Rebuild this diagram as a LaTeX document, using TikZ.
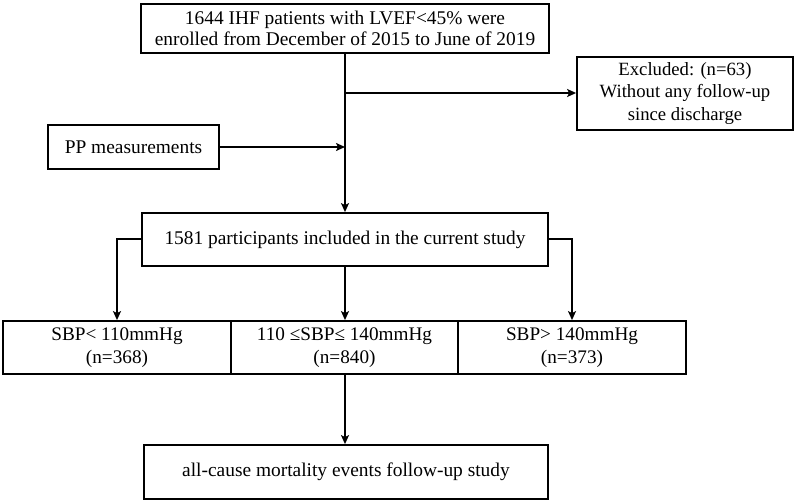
\documentclass[tikz,border=0pt]{standalone}
\usepackage{fontspec}
\setmainfont{Liberation Serif}
\usetikzlibrary{arrows.meta}
\begin{document}
\begin{tikzpicture}[x=1pt,y=-1pt,
  box/.style={draw,line width=1.8pt,inner sep=0pt,align=center,font=\fontsize{19.4}{22}\selectfont},
  conn/.style={line width=1.6pt},
  arr/.style={conn,-{Stealth[length=9pt,width=8pt,inset=2pt]}}]
\useasboundingbox (0,0) rectangle (800,503);
\node[box,minimum width=408pt,minimum height=49pt,font=\fontsize{19.4}{21}\selectfont] (top) at (345,28.5) {1644 IHF patients with LVEF<45\% were\\enrolled from December of 2015 to June of 2019};
\node[box,minimum width=216pt,minimum height=73pt,font=\fontsize{18.7}{22.5}\selectfont] (exc) at (685,93.5) {Excluded: (n=63)\\Without any follow-up\\since discharge};
\node[box,minimum width=171pt,minimum height=44pt] (pp) at (133.5,147) {PP measurements};
\node[box,minimum width=406pt,minimum height=53pt] (part) at (345,239.5) {1581 participants included in the current study};
\node[box,minimum width=228pt,minimum height=53pt,font=\fontsize{19.2}{23}\selectfont] (g1) at (117,347.5) {SBP< 110mmHg\\(n=368)};
\node[box,minimum width=227pt,minimum height=53pt,font=\fontsize{19.2}{23}\selectfont] (g2) at (344.5,347.5) {110 ≤SBP≤ 140mmHg\\(n=840)};
\node[box,minimum width=228pt,minimum height=53pt,font=\fontsize{19.2}{23}\selectfont] (g3) at (572,347.5) {SBP> 140mmHg\\(n=373)};
\node[box,minimum width=404pt,minimum height=54pt] (fin) at (346,472) {all-cause mortality events follow-up study};
\coordinate (j1) at (345,93);
\coordinate (j2) at (345,147);
\coordinate (bl) at (117,239);
\coordinate (br) at (572,239);
\draw[arr] (top.south-|345,0) -- (part.north-|345,0);
\draw[arr] (j1) -- (exc.west|-j1);
\draw[arr] (pp.east|-j2) -- (j2);
\draw[arr] (part.west|-bl) -- (bl) -- (g1.north);
\draw[arr] (part.east|-br) -- (br) -- (g3.north);
\draw[arr] (part.south-|345,0) -- (g2.north-|345,0);
\draw[arr] (g2.south-|345,0) -- (fin.north-|345,0);
\end{tikzpicture}
\end{document}
